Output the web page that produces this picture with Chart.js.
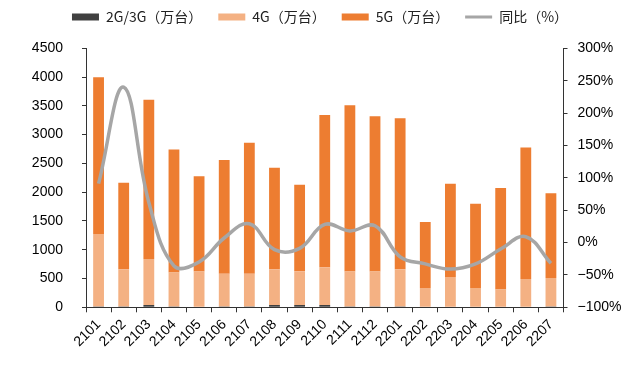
<!DOCTYPE html>
<html>
<head>
<meta charset="utf-8">
<script src="https://cdn.jsdelivr.net/npm/chart.js@4.4.1/dist/chart.umd.min.js"></script>
<style>
  html, body { margin: 0; padding: 0; background: #fff; }
  #wrap { width: 640px; height: 375px; position: relative; }
</style>
</head>
<body>
<div id="wrap"><canvas id="shipChart"></canvas></div>
<script>
// 月份
const months = ['2101', '2102', '2103', '2104', '2105', '2106', '2107', '2108', '2109', '2110',
  '2111', '2112', '2201', '2202', '2203', '2204', '2205', '2206', '2207'];

// 出货量 (万台)
const g23 = [15, 15, 40, 15, 0, 15, 15, 40, 40, 40, 15, 15, 15, 0, 0, 0, 0, 0, 15];
const g4 = [1257, 646, 799, 588, 620, 570, 570, 621, 586, 656, 605, 605, 646, 337, 528, 337, 308, 493, 495];
const g5 = [2725, 1505, 2765, 2140, 1655, 1975, 2275, 1765, 1505, 2645, 2890, 2700, 2625, 1145, 1620, 1460, 1765, 2285, 1470];

// 同比 (%)
const yoy = [91, 240, 62, -36, -30, 7, 29, -11, -9, 28, 18, 26, -22, -33, -41, -33, -10, 9, -32];

const AXIS = '#333';
const tickFont = { family: '"Liberation Sans", Arial, sans-serif', size: 14 };

// 图例高度固定, 让绘图区顶部对齐
const legendHeightPlugin = {
  id: 'legendHeight',
  beforeInit(chart) {
    const fit = chart.legend.fit;
    chart.legend.fit = function() {
      fit.call(this);
      this.height = 54.3;
    };
  }
};

new Chart(document.getElementById('shipChart'), {
  data: {
    labels: months,
    datasets: [
      { type: 'bar', label: '2G/3G（万台）', data: g23, backgroundColor: '#404040', yAxisID: 'y' },
      { type: 'bar', label: '4G（万台）', data: g4, backgroundColor: '#f4b183', yAxisID: 'y' },
      { type: 'bar', label: '5G（万台）', data: g5, backgroundColor: '#ed7d31', yAxisID: 'y' },
      {
        type: 'line', label: '同比（%）', data: yoy, yAxisID: 'y1', order: -1,
        borderColor: '#a6a6a6', backgroundColor: '#a6a6a6', borderWidth: 3.5,
        pointRadius: 0, tension: 0.4, fill: false
      }
    ]
  },
  plugins: [legendHeightPlugin],
  options: {
    responsive: true,
    maintainAspectRatio: false,
    animation: false,
    layout: { padding: { top: -6, left: 0, right: 0, bottom: 0 } },
    datasets: { bar: { categoryPercentage: 1, barPercentage: 0.43 } },
    plugins: {
      tooltip: { enabled: false },
      legend: {
        position: 'top',
        labels: {
          usePointStyle: true,
          pointStyleWidth: 27,
          boxHeight: 7,
          padding: 16,
          color: '#222',
          font: { family: '"Noto Sans CJK SC", sans-serif', size: 14 },
          generateLabels(chart) {
            return chart.data.datasets.map(function(ds, i) {
              const isLine = ds.type === 'line';
              return {
                text: ds.label,
                fillStyle: isLine ? ds.borderColor : ds.backgroundColor,
                strokeStyle: isLine ? ds.borderColor : ds.backgroundColor,
                lineWidth: isLine ? 3 : 0,
                pointStyle: isLine ? 'line' : 'rect',
                fontColor: '#222',
                hidden: false,
                datasetIndex: i
              };
            });
          }
        }
      }
    },
    scales: {
      x: {
        stacked: true,
        afterFit(scale) { scale.height = 67.7; },
        grid: { offset: true, drawOnChartArea: false, tickLength: 5, color: AXIS },
        border: { color: AXIS },
        ticks: {
          autoSkip: false, maxRotation: 45, minRotation: 45, padding: 4,
          color: '#000', font: { family: tickFont.family, size: 14 }
        }
      },
      y: {
        position: 'left',
        stacked: true,
        min: 0, max: 4500,
        afterFit(scale) { scale.width = 86; },
        grid: { drawOnChartArea: false, tickLength: 4, color: AXIS },
        border: { color: AXIS },
        ticks: { stepSize: 500, padding: 19, color: '#000', font: tickFont, callback: v => String(v) }
      },
      y1: {
        position: 'right',
        min: -100, max: 300,
        afterFit(scale) { scale.width = 76.5; },
        grid: { drawOnChartArea: false, tickLength: 4, color: AXIS },
        border: { color: AXIS },
        ticks: {
          stepSize: 50, padding: 10, color: '#000', font: tickFont,
          callback: v => (v < 0 ? '−' + (-v) : v) + '%'
        }
      }
    }
  }
});
</script>
</body>
</html>
